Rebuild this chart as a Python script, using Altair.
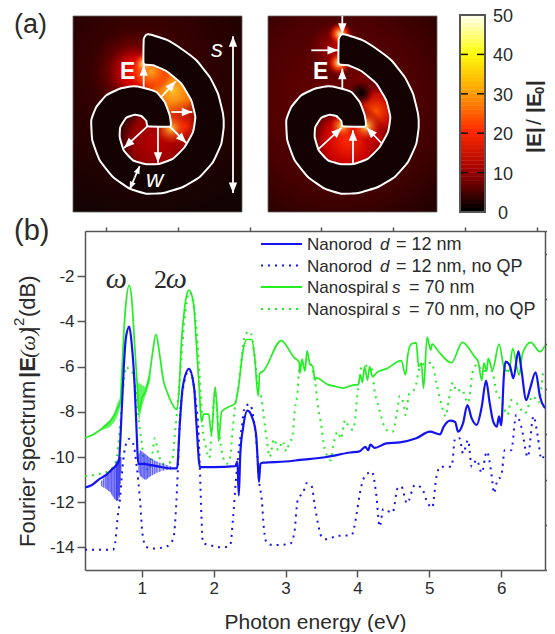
import math
import altair as alt
import pandas as pd

# ---------- panel (b) spectra ----------
gs_x = [0.21,0.3,0.4,0.5,0.6,0.66,0.7,0.72,0.75,0.78,0.826,0.86,0.9,0.94,0.96,1.0,1.05,1.1,1.15,1.197,1.25,1.3,1.35,1.4,1.45,1.485,1.52,1.55,1.6,1.657,1.72,1.76,1.8,1.83,1.86,1.93,1.97,2.02,2.05,2.07,2.11,2.2,2.3,2.34,2.41,2.46,2.53,2.57,2.62,2.64,2.69,2.94,3.12,3.19,3.2,3.23,3.27,3.30,3.34,3.38,3.41,3.43,3.59,3.66,3.80,3.94,4.01,4.04,4.07,4.10,4.14,4.17,4.21,4.27,4.42,4.61,4.67,4.70,4.75,4.82,4.85,4.89,4.92,4.97,5.02,5.04,5.12,5.31,5.46,5.63,5.68,5.73,5.76,5.80,5.82,5.88,5.97,6.05,6.11,6.16,6.25,6.30,6.41,6.54,6.61]
gs_y = [-9.15,-9.05,-8.85,-8.6,-8.25,-7.85,-7.6,-6.5,-4.5,-3.2,-2.4,-3,-5,-7,-8,-7.4,-7.1,-6.5,-5.4,-4.57,-5.5,-6.6,-7.1,-7.5,-7.8,-7.9,-7.0,-5,-3.3,-2.62,-3.2,-5,-7,-8.45,-8.1,-8.1,-9,-6.9,-8.0,-9.3,-8,-7.8,-7.62,-7.03,-5.27,-4.8,-4.8,-5.56,-7.3,-6.3,-6.2,-4.85,-5.6,-5.8,-6.3,-5.67,-6.2,-5.3,-5.9,-6.0,-6.6,-6.5,-6.8,-6.85,-6.95,-6.82,-6.8,-6.37,-6.7,-6.0,-6.6,-6.0,-6.45,-6.27,-6.07,-5.74,-6.37,-5.5,-5.0,-4.95,-6.0,-5.85,-6.96,-4.7,-5.27,-5.0,-5.3,-5.83,-4.93,-5.56,-5.78,-6.6,-5.85,-6.2,-5.64,-6.15,-5.0,-6.15,-6.2,-5.2,-6.37,-5.4,-4.93,-5.34,-5.07]

bs_x = [0.21,0.3,0.4,0.5,0.6,0.68,0.72,0.75,0.78,0.826,0.86,0.9,0.93,0.95,1.0,1.2,1.4,1.49,1.53,1.57,1.657,1.73,1.76,1.81,2.0,2.3,2.33,2.35,2.37,2.41,2.47,2.53,2.59,2.61,2.63,2.65,2.69,3.0,3.2,3.57,3.90,4.03,4.11,4.15,4.18,4.24,4.40,4.59,4.82,5.01,5.15,5.2,5.29,5.36,5.40,5.47,5.53,5.59,5.66,5.73,5.79,5.84,5.89,5.94,5.97,6.0,6.04,6.06,6.12,6.17,6.24,6.28,6.35,6.40,6.48,6.54,6.61]
bs_y = [-11.35,-11.25,-11.0,-10.8,-10.5,-10.2,-8,-6,-4.7,-4.23,-5,-6.8,-9,-10.3,-10.3,-10.4,-10.5,-10.5,-8.5,-6.9,-6.1,-7,-8.5,-10.45,-10.45,-10.4,-10.2,-11.7,-9.9,-8.7,-7.95,-8.2,-9,-10,-11.1,-10.3,-10.25,-10.2,-10.13,-10.0,-9.8,-9.75,-9.55,-9.7,-9.45,-9.6,-9.4,-9.35,-9.17,-8.88,-9.0,-8.66,-8.39,-8.45,-8.88,-8.5,-7.7,-8.29,-8.58,-7.77,-6.62,-7.6,-8.44,-8.66,-8.2,-8.6,-6.3,-5.78,-5.95,-6.52,-5.31,-6.1,-7.48,-7.0,-6.25,-7.33,-7.84]

bd_x = [0.21,0.60,0.63,0.665,0.70,0.72,0.77,0.82,0.88,0.93,0.975,1.01,1.06,1.16,1.35,1.44,1.48,1.50,1.52,1.55,1.66,1.75,1.79,1.81,1.83,1.85,1.95,2.13,2.23,2.27,2.31,2.34,2.39,2.435,2.505,2.56,2.6,2.63,2.67,2.70,2.74,2.83,3.06,3.12,3.17,3.25,3.29,3.36,3.41,3.45,3.50,3.57,3.71,3.92,3.99,4.03,4.10,4.2,4.26,4.31,4.36,4.43,4.49,4.56,4.61,4.69,4.8,4.89,4.98,5.04,5.10,5.15,5.31,5.36,5.42,5.47,5.54,5.59,5.66,5.73,5.80,5.87,5.90,5.95,6.0,6.05,6.14,6.21,6.28,6.37,6.45,6.51,6.56,6.6]
bd_y = [-14.1,-14.1,-13.8,-12.64,-11.76,-10.9,-9.55,-9.2,-9.4,-10.43,-11.9,-13.4,-13.97,-14.05,-13.95,-13.6,-12.05,-10.7,-9,-7.5,-6.15,-7.5,-9,-10.7,-12.64,-13.8,-13.9,-14.0,-13.9,-12.7,-11,-10,-8.7,-7.77,-7.67,-8.4,-9.5,-11,-11.9,-13.2,-13.8,-13.9,-13.85,-13.4,-11.9,-11.53,-11.16,-11.27,-12.2,-12.93,-13.52,-13.64,-13.5,-13.45,-12.5,-11.68,-10.87,-10.65,-11.6,-13.08,-12.3,-12.4,-12.46,-11.38,-11.3,-12.05,-11.24,-11.35,-12.05,-12.24,-10.87,-10.43,-10.43,-9.17,-9.17,-9.84,-9.25,-10.43,-10.13,-10.7,-9.76,-10.87,-11.6,-11,-10.87,-9.7,-9.7,-8.14,-8.66,-10.0,-8.2,-9.1,-10.1,-9.9]

gd_x = [0.21,0.4,0.55,0.64,0.70,0.74,0.79,0.826,0.88,0.915,0.95,1.0,1.04,1.10,1.15,1.18,1.23,1.29,1.42,1.46,1.49,1.53,1.6,1.66,1.75,1.82,1.85,1.89,1.94,1.97,2.02,2.06,2.10,2.13,2.18,2.23,2.26,2.30,2.34,2.39,2.435,2.505,2.57,2.62,2.67,2.70,2.74,2.78,2.84,2.90,2.96,3.01,3.06,3.09,3.13,3.17,3.19,3.3,3.41,3.43,3.46,3.50,3.53,3.59,3.63,3.66,3.73,3.77,3.83,3.87,3.94,4.01,4.06,4.10,4.20,4.24,4.28,4.33,4.40,4.49,4.55,4.59,4.65,4.67,4.72,4.8,4.86,4.91,5.03,5.10,5.17,5.23,5.27,5.33,5.38,5.45,5.54,5.61,5.68,5.73,5.87,5.94,6.0,6.09,6.14,6.21,6.33,6.44,6.52,6.58]
gd_y = [-10.85,-10.75,-10.6,-10.2,-8.5,-7,-6.0,-6.18,-6.3,-7,-8.2,-9.4,-10.3,-10.6,-9.8,-9.17,-9.84,-10.3,-10.2,-9,-8.0,-6.5,-3.8,-2.7,-4,-7.2,-8.8,-9.54,-10.05,-9,-7.1,-8.5,-9.5,-10.0,-10.3,-10,-8.95,-7.7,-7,-5.6,-4.6,-4.45,-5.5,-7,-7.48,-8.3,-9.25,-10,-9.2,-9.7,-9.3,-9.75,-9.3,-9.2,-7.9,-7.03,-6.1,-5.7,-6.6,-7.18,-7.92,-8.66,-9.4,-10,-10.15,-9.55,-8.88,-9.2,-8.36,-8.6,-8.8,-6.96,-6.0,-5.95,-6.1,-7.1,-7.6,-8.2,-8.8,-8.88,-8.07,-7.3,-7.77,-8.14,-7.2,-6.97,-6.1,-5.9,-5.83,-6.73,-7.7,-8.2,-7.5,-6.7,-7.1,-7.0,-7.6,-6.15,-5.9,-6.2,-6.2,-7.2,-7.48,-8.14,-7.48,-7.6,-8.07,-7.3,-7.6,-6.3]

# ringing spikes around the first resonance
sl_x = [0.44,0.47,0.50,0.52,0.54,0.56,0.58,0.60,0.62,0.64,0.65,0.66,0.67,0.68,0.69,0.70,0.71]
sl_hi = [-11.05,-10.95,-10.85,-10.8,-10.75,-10.65,-10.55,-10.5,-10.4,-10.25,-10.2,-10.15,-10.1,-10.1,-10.05,-10.0,-10.0]
sl_lo = [-11.3,-11.35,-11.4,-11.45,-11.5,-11.55,-11.65,-11.75,-11.85,-11.9,-11.95,-11.9,-11.95,-11.7,-11.8,-11.2,-10.7]
sr_x = [0.96,0.98,1.0,1.02,1.04,1.06,1.08,1.1,1.12,1.15,1.18,1.21,1.25,1.3,1.35,1.4]
sr_hi = [-9.85,-9.7,-9.75,-9.8,-9.85,-9.9,-9.95,-10,-10.05,-10.1,-10.15,-10.2,-10.25,-10.3,-10.35,-10.4]
sr_lo = [-10.7,-10.85,-10.9,-10.95,-11.0,-11.0,-10.95,-10.9,-10.85,-10.8,-10.75,-10.7,-10.65,-10.6,-10.58,-10.55]
gl_x = [0.45,0.55,0.62,0.66,0.70]
gl_hi = [-8.65,-8.4,-8.05,-7.6,-7.4]
gl_lo = [-8.8,-8.7,-8.45,-8.2,-7.8]
gr_x = [0.93,0.96,1.0,1.05,1.12]
gr_hi = [-6.9,-6.7,-6.8,-6.9,-6.2]
gr_lo = [-7.3,-8.5,-7.8,-7.3,-6.6]

x_major = [1, 2, 3, 4, 5, 6]
x_minor = [0.5, 1.5, 2.5, 3.5, 4.5, 5.5, 6.5]
y_major = [-14, -12, -10, -8, -6, -4, -2]
y_minor = [-15, -13, -11, -9, -7, -5, -3, -1, 0]

# ---------- panel (a) geometry, in panel units (0-169 across, 0-196 down) ----------
spiral_u = [70.7,73.3,78.3,93.3,108.3,123.3,136.7,145,150,150.7,148.3,140,126.7,110,90,73.3,56.7,40,26.7,19.3,18.3,23.3,33.3,46.7,60,70,83.3,91.7,96.7,97.3,75,73.3,68.3,61.7,53.3,47.3,46.7,50.7,60,73.3,86.7,100,111.7,120,122.3,118.3,108.3,93.3,80,70.7,70.7]
spiral_v = [22.7,18.7,18.7,23.7,32.7,44.3,61,77.7,97.7,111,127.7,146,161,171,177,177.7,172.7,161,144.3,124.3,104.3,91,79.3,72.7,70.3,71.7,76,86,99.3,110.3,110.3,105,100,98.7,101.7,111,121,134.3,144.3,148.3,147.7,142.7,131,116,101,84.3,67.7,55,49.3,47.7,22.7]

a1_arrows = [(70.7,71.7,70.7,49.3),(88.3,81,102.7,65.3),(98.3,96,119.3,96),(97.3,111,113.3,127),(85,111,85,146.7),(74.3,110.3,51,132),(160,100,160,20.3),(160,100,160,177)]
a1_small = [(61.7,161.7,66.7,150),(61.7,161.7,56.7,173.3)]
a2_arrows = [(74.3,0,74.3,17.7),(43.3,34.3,70,34.3),(74.3,72.7,74.3,52.7),(51,132.7,73.7,111.7),(85,147.7,85,114.3),(113.3,127,98.7,111.7)]

# field maps: background glow (centre x, centre y, stops), then hot spots (u, v, radius, stops)
bg1 = (0.42, 0.25, [(0, "#4a0000"), (0.5, "#2a0000"), (1, "#140303")])
glow1 = [
 (62, 56, 46, [(0, "rgba(255,30,0,1)"), (0.3, "rgba(230,0,0,.85)"), (0.6, "rgba(140,0,0,.5)"), (1, "rgba(90,0,0,0)")]),
 (85, 125, 42, [(0, "rgba(190,0,0,1)"), (0.65, "rgba(150,0,0,.95)"), (1, "rgba(90,0,0,0)")]),
 (100, 75, 38, [(0, "rgba(255,190,40,1)"), (0.5, "rgba(255,110,0,.95)"), (1, "rgba(230,20,0,0)")]),
 (78, 55, 22, [(0, "rgba(255,170,30,1)"), (0.6, "rgba(255,70,0,.8)"), (1, "rgba(230,20,0,0)")]),
 (112, 110, 26, [(0, "rgba(255,40,0,1)"), (1, "rgba(180,0,0,0)")]),
 (98, 112, 16, [(0, "rgba(255,200,60,1)"), (1, "rgba(255,60,0,0)")]),
 (71, 48, 10, [(0, "rgba(255,255,180,1)"), (1, "rgba(255,60,0,0)")]),
]
bg2 = (0.42, 0.42, [(0, "#6a0000"), (0.55, "#4a0000"), (1, "#1c0101")])
glow2 = [
 (68, 33, 30, [(0, "rgba(210,0,0,.9)"), (1, "rgba(120,0,0,0)")]),
 (72, 18, 12, [(0, "rgba(255,250,170,1)"), (0.5, "rgba(255,60,0,.9)"), (1, "rgba(200,0,0,0)")]),
 (71, 47, 12, [(0, "rgba(255,250,170,1)"), (0.5, "rgba(255,60,0,.9)"), (1, "rgba(200,0,0,0)")]),
 (95, 65, 22, [(0, "rgba(130,0,0,.8)"), (1, "rgba(130,0,0,0)")]),
 (108, 95, 28, [(0, "rgba(255,80,0,1)"), (0.6, "rgba(220,10,0,.8)"), (1, "rgba(150,0,0,0)")]),
 (80, 125, 40, [(0, "rgba(255,40,0,1)"), (0.6, "rgba(210,0,0,.9)"), (1, "rgba(110,0,0,0)")]),
 (110, 122, 18, [(0, "rgba(220,0,0,.8)"), (1, "rgba(150,0,0,0)")]),
 (98, 110, 14, [(0, "rgba(255,230,90,1)"), (1, "rgba(255,60,0,0)")]),
 (74, 110, 12, [(0, "rgba(255,220,80,1)"), (1, "rgba(255,60,0,0)")]),
 (92.7, 77, 13, [(0, "rgba(0,0,0,1)"), (0.4, "rgba(30,0,0,.8)"), (1, "rgba(60,0,0,0)")]),
]
METAL = "#140101"

cbar_ticks = [10, 20, 30, 40]
cbar_labels = [0, 10, 20, 30, 40, 50]
cbar_levels = list(range(0, 50))
cmap_dom = [0, 10, 20, 30, 40, 50]
cmap_rng = ["#000000", "#a00000", "#ff2a00", "#ffa000", "#ffff10", "#ffffff"]

legend_rows = [
    ("#1414f0", [], "Nanorod", "d", "= 12 nm", 380, 396),
    ("#1414f0", [2, 5], "Nanorod", "d", "= 12 nm, no QP", 380, 396),
    ("#22ee22", [], "Nanospiral", "s", "= 70 nm", 392, 409),
    ("#22ee22", [2, 5], "Nanospiral", "s", "= 70 nm, no QP", 392, 409),
]
legend_y = [244, 265.5, 287, 309]

# ---------- placement of the sub-panels relative to the plot origin ----------
W, H = 460, 339
X0, Y0 = 85, 231
INK = "#2a2a2a"
SANS = "Liberation Sans"
SERIF = "Liberation Serif"
BLUE, GREEN = "#1414f0", "#22ee22"

main_x = alt.Scale(domain=[0.21, 6.61], range=[0, W], nice=False, zero=False)
main_y = alt.Scale(domain=[-15, 0], range=[H, 0], nice=False, zero=False)
def mx(f): return alt.X(f, type="quantitative", scale=main_x, axis=None)
def my(f): return alt.Y(f, type="quantitative", scale=main_y, axis=None)

layers = []

def txt(s, px, py, size, weight="normal", style="normal", font=SANS, color=INK, angle=0, align="left", baseline="alphabetic"):
    layers.append(alt.Chart(alt.Data(values=[{"t": s}])).mark_text(
        fontSize=size, fontWeight=weight, fontStyle=style, font=font, color=color,
        angle=angle, align=align, baseline=baseline
    ).encode(text="t:N", x=alt.value(px - X0), y=alt.value(py - Y0)))

# axes ---------------------------------------------------------------------
ax_common = dict(domainColor="#555", domainWidth=1.5, tickColor="#555", tickWidth=1.5, grid=False)
layers.append(alt.Chart(pd.DataFrame({"x": x_major, "y": [-15]*6})).mark_point(opacity=0).encode(
    x=alt.X("x:Q", scale=main_x, axis=alt.Axis(values=x_major, tickSize=7, labelFontSize=17, labelFont=SANS,
            labelColor=INK, labelPadding=3, format="d", title="Photon energy (eV)", titleFontSize=21,
            titleFont=SANS, titleFontWeight="normal", titleColor=INK, titlePadding=15, **ax_common)),
    y=alt.Y("y:Q", scale=main_y, axis=alt.Axis(values=y_major, tickSize=8, labelFontSize=17, labelFont=SANS,
            labelColor=INK, labelPadding=3, format="d", title=None, labelExpr="replace(datum.label,'−','-')", **ax_common)),
))
layers.append(alt.Chart(pd.DataFrame({"x": x_minor, "y": [-15]*7})).mark_point(opacity=0).encode(
    x=alt.X("x:Q", scale=main_x, axis=alt.Axis(values=x_minor, tickSize=4, labels=False, title=None, **ax_common)),
    y=alt.Y("y:Q", scale=main_y, axis=alt.Axis(values=y_minor, tickSize=4, labels=False, title=None, **ax_common)),
))

# spectra ------------------------------------------------------------------
def band(xs, hi, lo, color, op):
    d = pd.DataFrame({"x": xs, "hi": hi, "lo": lo})
    layers.append(alt.Chart(d).mark_area(color=color, opacity=op, clip=True).encode(
        x=mx("x"), y=my("hi"), y2="lo"))

def spikes(xs, hi, lo, color, op, w):
    d = pd.DataFrame({"x": xs, "hi": hi, "lo": lo})
    layers.append(alt.Chart(d).mark_rule(color=color, opacity=op, strokeWidth=w).encode(
        x=mx("x"), y=my("hi"), y2="lo"))

def curve(xs, ys, color, w, dash=None):
    d = pd.DataFrame({"x": xs, "y": ys})
    kw = dict(color=color, strokeWidth=w, clip=True, interpolate="monotone")
    if dash:
        kw["strokeDash"] = dash
    layers.append(alt.Chart(d).mark_line(**kw).encode(x=alt.X("x", type="quantitative", scale=main_x, axis=None, sort=None), y=my("y")))

curve(gd_x, gd_y, GREEN, 2, [2, 5])
curve(bd_x, bd_y, BLUE, 2, [2, 5])
band(gl_x, gl_hi, gl_lo, GREEN, 0.7)
band(gr_x, gr_hi, gr_lo, GREEN, 0.7)
curve(gs_x, gs_y, GREEN, 1.7)
band(sl_x, sl_hi, sl_lo, "#2a2aff", 0.3)
band(sr_x, sr_hi, sr_lo, "#2a2aff", 0.3)
spikes(sl_x, sl_hi, sl_lo, "#1414f0", 0.55, 1.2)
spikes(sr_x, sr_hi, sr_lo, "#1414f0", 0.55, 1.2)
curve(bs_x, bs_y, BLUE, 2.2)

# omega labels on the data scale
for s, ex, db, size, st, f in [("ω", 0.5, -2.5, 30, "italic", SERIF), ("2", 1.17, -2.5, 26, "normal", SERIF), ("ω", 1.335, -2.5, 30, "italic", SERIF)]:
    layers.append(alt.Chart(pd.DataFrame({"x": [ex], "y": [db], "t": [s]})).mark_text(
        fontSize=size, fontStyle=st, font=f, color=INK, align="left", baseline="alphabetic"
    ).encode(x=mx("x"), y=my("y"), text="t:N"))

# legend -------------------------------------------------------------------
for (col, dash, a, b, c, xb, xc), ly in zip(legend_rows, legend_y):
    kw = dict(color=col, strokeWidth=2)
    if dash:
        kw["strokeDash"] = dash
    layers.append(alt.Chart(alt.Data(values=[{"a": 1}])).mark_rule(**kw).encode(
        x=alt.value(261 - X0), x2=alt.value(302 - X0), y=alt.value(ly - Y0)))
    txt(a, 307, ly + 6, 17)
    txt(b, xb, ly + 6, 17, style="italic")
    txt(c, xc, ly + 6, 18)

# field maps ---------------------------------------------------------------
cmap = alt.Scale(domain=cmap_dom, range=cmap_rng, interpolate="rgb")

def stops(st):
    return [alt.GradientStop(color=c, offset=o) for o, c in st]

def panel(bg, glows, arrows, small, left):
    xs = alt.Scale(domain=[0, 169], range=[left - X0, left - X0 + 169], nice=False, zero=False)
    ys = alt.Scale(domain=[0, 196], range=[16 - Y0, 212 - Y0], nice=False, zero=False)
    cx, cy, st = bg
    layers.append(alt.Chart(pd.DataFrame({"a": [0], "b": [169], "c": [0], "d": [196]})).mark_rect(
        fill=alt.RadialGradient(gradient="radial", stops=stops(st), x1=cx, y1=cy, x2=cx, y2=cy, r1=0, r2=0.8),
        stroke="#666", strokeWidth=0.8
    ).encode(x=alt.X("a:Q", scale=xs, axis=None), x2="b:Q", y=alt.Y("c:Q", scale=ys, axis=None), y2="d:Q"))
    for (u, v, r, st) in glows:
        layers.append(alt.Chart(pd.DataFrame({"u": [u], "v": [v]})).mark_circle(
            fill=alt.RadialGradient(gradient="radial", stops=stops(st), x1=0.5, y1=0.5, x2=0.5, y2=0.5, r1=0, r2=0.5),
            size=(2 * r) ** 2, opacity=1, strokeWidth=0
        ).encode(x=alt.X("u:Q", scale=xs, axis=None), y=alt.Y("v:Q", scale=ys, axis=None)))
    d = pd.DataFrame({"u": spiral_u, "v": spiral_v, "i": range(len(spiral_u))})
    layers.append(alt.Chart(d).mark_line(fill=METAL, stroke="white", strokeWidth=2, interpolate="cardinal", tension=0.6).encode(
        x=alt.X("u:Q", scale=xs, axis=None), y=alt.Y("v:Q", scale=ys, axis=None), order="i:Q"))
    for group, size, w in [(arrows, 110, 1.8), (small, 60, 1.8)]:
        if not group:
            continue
        recs = []
        for (a, b, c, e) in group:
            recs.append({"a": a, "b": b, "c": c, "e": e, "ang": math.degrees(math.atan2(c - a, b - e)) % 360})
        g = pd.DataFrame(recs)
        layers.append(alt.Chart(g).mark_rule(color="white", strokeWidth=w).encode(
            x=alt.X("a:Q", scale=xs, axis=None), x2="c:Q",
            y=alt.Y("b:Q", scale=ys, axis=None), y2="e:Q"))
        layers.append(alt.Chart(g).mark_point(shape="M0,0L-0.8,2L0.8,2Z", filled=True, size=size, color="white", opacity=1).encode(
            x=alt.X("c:Q", scale=xs, axis=None), y=alt.Y("e:Q", scale=ys, axis=None),
            angle=alt.Angle("ang:Q", scale=None)))

panel(bg1, glow1, a1_arrows, a1_small, 73)
panel(bg2, glow2, a2_arrows, [], 268)
txt("E", 120, 79, 23, weight="bold", color="white")
txt("s", 211, 57, 24, style="italic", color="white")
txt("w", 146, 187, 24, style="italic", color="white")
txt("E", 313, 79, 23, weight="bold", color="white")

# colour bar ---------------------------------------------------------------
cb_y = alt.Scale(domain=[0, 50], range=[212 - Y0, 15 - Y0], nice=False, zero=False)
cb = pd.DataFrame({"lo": cbar_levels, "hi": [l + 1.1 for l in cbar_levels]})
layers.append(alt.Chart(cb).mark_rect(strokeWidth=0).encode(
    x=alt.value(460 - X0), x2=alt.value(485 - X0),
    y=alt.Y("lo:Q", scale=cb_y, axis=None), y2="hi:Q",
    color=alt.Color("lo:Q", scale=cmap, legend=None)))
for x1, x2 in [(460, 468), (477, 485)]:
    layers.append(alt.Chart(pd.DataFrame({"t": cbar_ticks})).mark_rule(color="#111", strokeWidth=1.5).encode(
        x=alt.value(x1 - X0), x2=alt.value(x2 - X0), y=alt.Y("t:Q", scale=cb_y, axis=None)))
layers.append(alt.Chart(pd.DataFrame({"lo": [0], "hi": [50]})).mark_rect(fillOpacity=0, stroke="#555", strokeWidth=2).encode(
    x=alt.value(460 - X0), x2=alt.value(485 - X0),
    y=alt.Y("lo:Q", scale=cb_y, axis=None), y2="hi:Q"))
layers.append(alt.Chart(pd.DataFrame({"t": cbar_labels})).mark_text(fontSize=18, dy=2, font=SANS, color=INK, align="center", baseline="middle").encode(
    x=alt.value(503 - X0), y=alt.Y("t:Q", scale=cb_y, axis=None), text="t:Q"))

txt("|E|", 541, 153, 21, weight="bold", angle=270)
txt("/", 541, 125, 21, angle=270)
txt("|E", 541, 113, 21, weight="bold", angle=270)
txt("0", 544, 94, 13, weight="bold", angle=270)
txt("|", 541, 86, 21, weight="bold", angle=270)

# y axis title in pieces ---------------------------------------------------
txt("Fourier spectrum", 35, 547, 22, angle=270)
txt("|E", 35, 378, 22, weight="bold", angle=270)
txt("(ω)", 35, 358, 22, style="italic", font=SERIF, angle=270)
txt("|", 35, 332, 22, angle=270)
txt("2", 24, 326, 15, angle=270)
txt("(dB)", 35, 317, 22, angle=270)

txt("(a)", 14, 33, 27)
txt("(b)", 14, 240, 29)

chart = alt.layer(*layers).resolve_scale(x="independent", y="independent").properties(
    width=W, height=H,
    padding={"left": X0 - 8, "top": Y0 - 8, "right": 2, "bottom": 62},
    autosize=alt.AutoSizeParams(type="none"),
).configure_view(stroke="#555", strokeWidth=1.5).configure(background="white")

chart.save("out.html", embed_options={"renderer": "svg", "actions": False})
